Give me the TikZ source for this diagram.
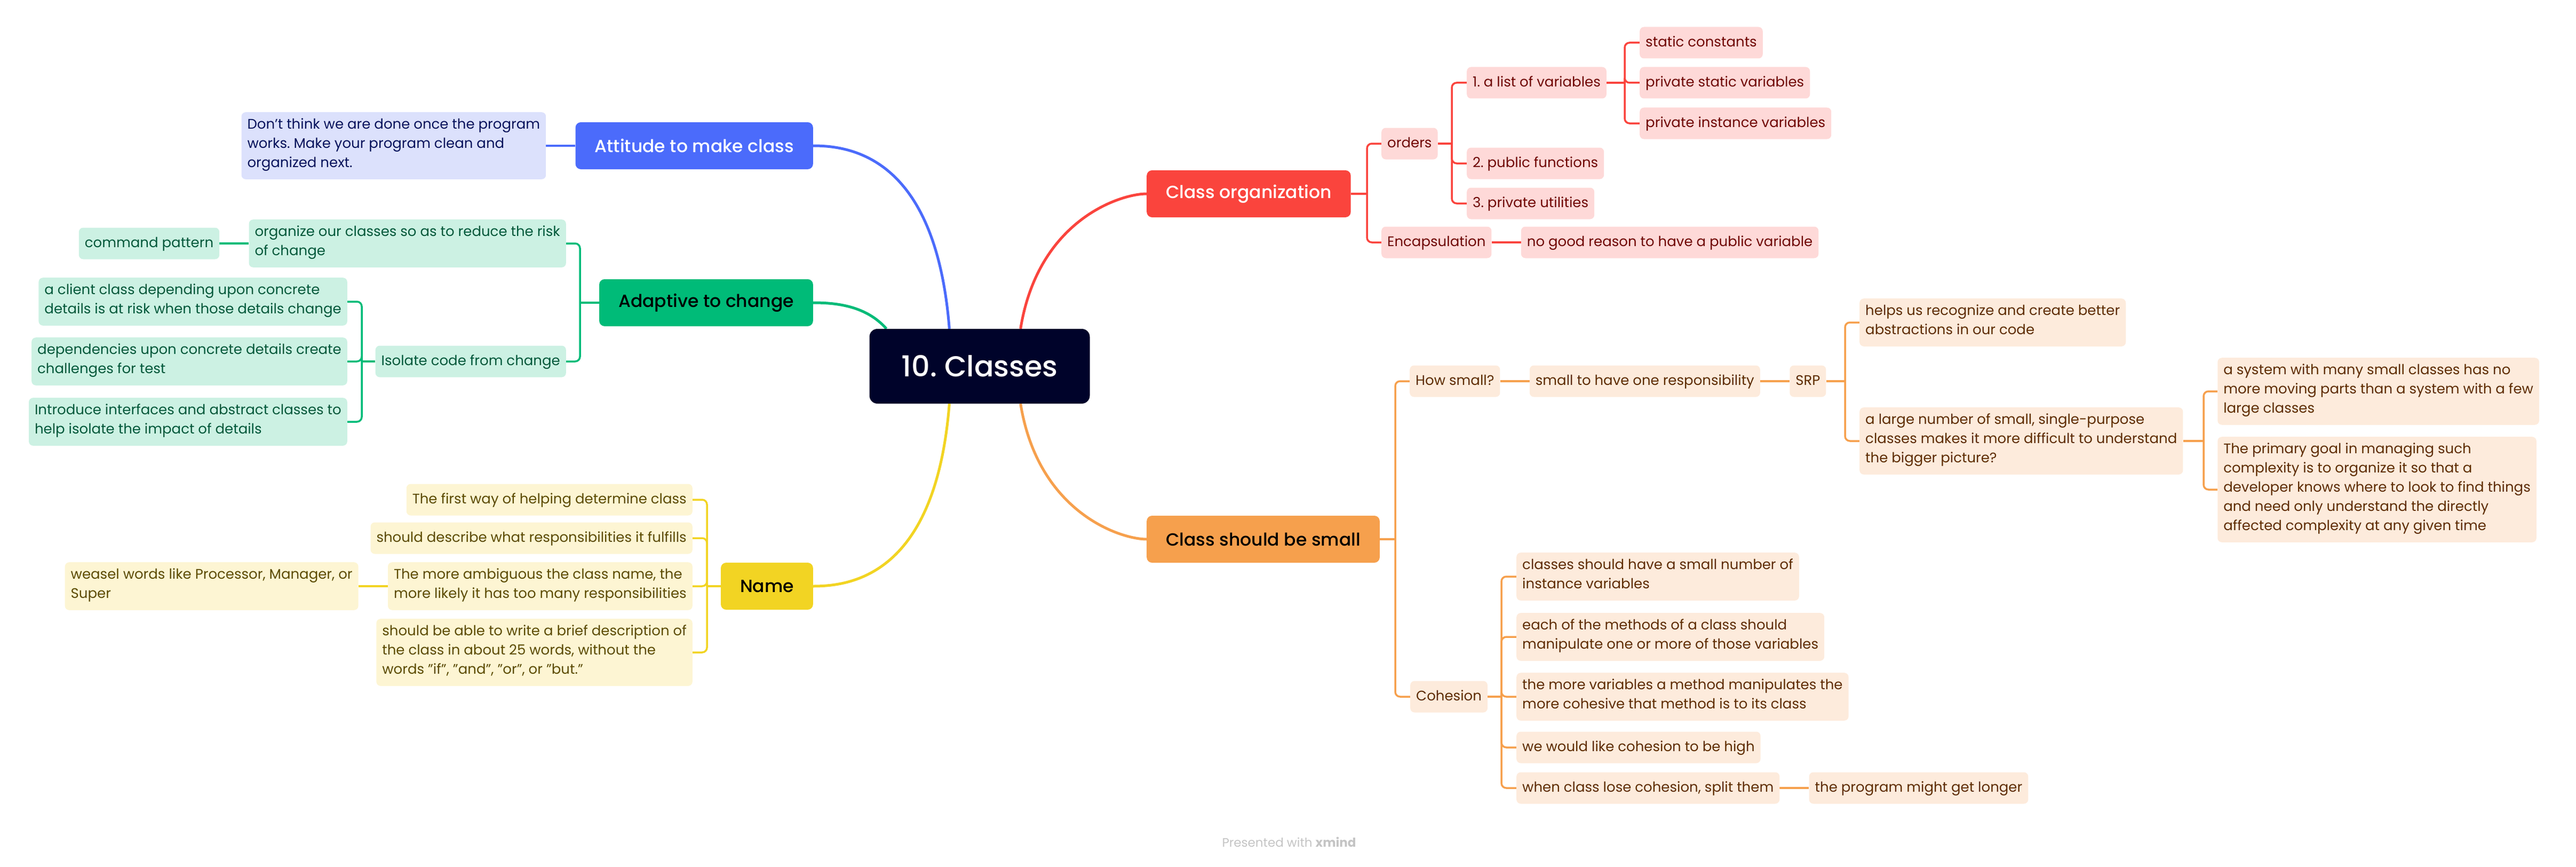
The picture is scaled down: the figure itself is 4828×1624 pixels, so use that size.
\documentclass[tikz,border=0pt]{standalone}
\usepackage{fontspec}
\setmainfont{Poppins}
\newfontfamily\topicfont{Poppins Medium}
\frenchspacing
\usetikzlibrary{positioning,backgrounds}

\definecolor{rootnavy}{HTML}{00032A}
\definecolor{attblue}{HTML}{4B6BFB}
\definecolor{attlight}{HTML}{DCE1FC}
\definecolor{attdark}{HTML}{05125B}
\definecolor{adagreen}{HTML}{00BB78}
\definecolor{adalight}{HTML}{CCF1E3}
\definecolor{adadark}{HTML}{00583A}
\definecolor{nameyellow}{HTML}{F2D423}
\definecolor{namelight}{HTML}{FDF5D3}
\definecolor{namedark}{HTML}{5C4B00}
\definecolor{corgred}{HTML}{FA443D}
\definecolor{corglight}{HTML}{FED9D8}
\definecolor{corgdark}{HTML}{6F0300}
\definecolor{smallorange}{HTML}{F6A04D}
\definecolor{smalllight}{HTML}{FDEBDC}
\definecolor{smalldark}{HTML}{5E2C00}
\definecolor{wmgray}{HTML}{C4C4C4}

\tikzstyle{root}=[rounded corners=15pt, fill=rootnavy, text=white, minimum height=140, inner xsep=60, font=\topicfont\fontsize{54}{64}\selectfont]
\tikzstyle{topic}=[rounded corners=10pt, minimum height=88, inner xsep=36, font=\topicfont\fontsize{33}{40}\selectfont]
\tikzstyle{leaf}=[rounded corners=8pt, inner xsep=11, inner ysep=11.5, font=\fontsize{26}{36}\selectfont, execute at begin node=\strut, execute at end node=\strut]
\tikzset{%
    bleaf/.style={leaf, fill=attlight, text=attdark},
    gleaf/.style={leaf, fill=adalight, text=adadark},
    yleaf/.style={leaf, fill=namelight, text=namedark},
    rleaf/.style={leaf, fill=corglight, text=corgdark},
    oleaf/.style={leaf, fill=smalllight, text=smalldark},
    branch/.style={line width=5pt},
    twig/.style={line width=3.5pt, rounded corners=9pt},
}

\begin{document}
\begin{tikzpicture}[x=1pt,y=-1pt,every text node part/.style={align=left},node distance=55pt]
      \useasboundingbox (0,0) rectangle (4828,1624);

      \node [root] (classes) at (1836,686) {10. Classes};

      % main topics
      \node [topic, fill=corgred, text=white, anchor=west] (clsorg) at (2149,363) {Class organization};
      \node [topic, fill=smallorange, anchor=west] (clssmall) at (2149,1010) {Class should be small};
      \node [topic, fill=attblue, text=white, anchor=east] (attitude) at (1524,273) {Attitude to make class};
      \node [topic, fill=adagreen, anchor=east] (adaptive) at (1524,567) {Adaptive to change};
      \node [topic, fill=nameyellow, anchor=east] (name) at (1524,1098) {Name};

      % Class organization
      \node [rleaf, anchor=west] (orders) at (2589,269) {orders};
      \node [rleaf, anchor=west] (varlist) at (2749,155) {1. a list of variables};
      \node [rleaf, anchor=west] (sconst) at (3073,80) {static constants};
      \node [rleaf, anchor=west] (pstatic) at (3073,155) {private static variables};
      \node [rleaf, anchor=west] (pinst) at (3073,231) {private instance variables};
      \node [rleaf, anchor=west] (pubfun) at (2749,306) {2. public functions};
      \node [rleaf, anchor=west] (privutil) at (2749,381) {3. private utilities};
      \node [rleaf, anchor=west] (encap) at (2589,454) {Encapsulation};
      \node [rleaf, right=of encap] (noreason) {no good reason to have a public variable};

      % Class should be small
      \node [oleaf, anchor=west] (howsmall) at (2642,714) {How small?};
      \node [oleaf, right=of howsmall] (oneresp) {small to have one responsibility};
      \node [oleaf, right=of oneresp] (srp) {SRP};
      \node [oleaf, anchor=west] (helps) at (3485,604) {helps us recognize and create better\\abstractions in our code};
      \node [oleaf, anchor=west] (largenum) at (3485,826) {a large number of small, single-purpose\\classes makes it more difficult to understand\\the bigger picture?};
      \node [oleaf, anchor=west] (manysmall) at (4156,733) {a system with many small classes has no\\more moving parts than a system with a few\\large classes};
      \node [oleaf, anchor=west] (primgoal) at (4156,917) {The primary goal in managing such\\complexity is to organize it so that a\\developer knows where to look to find things\\and need only understand the directly\\affected complexity at any given time};
      \node [oleaf, anchor=west] (cohesion) at (2643,1305) {Cohesion};
      \node [oleaf, anchor=west] (coh1) at (2842,1080) {classes should have a small number of\\instance variables};
      \node [oleaf, anchor=west] (coh2) at (2842,1193) {each of the methods of a class should\\manipulate one or more of those variables};
      \node [oleaf, anchor=west] (coh3) at (2842,1305) {the more variables a method manipulates the\\more cohesive that method is to its class};
      \node [oleaf, anchor=west] (coh4) at (2842,1400) {we would like cohesion to be high};
      \node [oleaf, anchor=west] (coh5) at (2842,1476) {when class lose cohesion, split them};
      \node [oleaf, right=of coh5] (longer) {the program might get longer};

      % Attitude to make class
      \node [bleaf, left=of attitude] (notdone) {Don't think we are done once the program\\works. Make your program clean and\\organized next.};

      % Adaptive to change
      \node [gleaf, anchor=east] (reduce) at (1061,456) {organize our classes so as to reduce the risk\\of change};
      \node [gleaf, left=of reduce] (command) {command pattern};
      \node [gleaf, anchor=east] (isolate) at (1061,677) {Isolate code from change};
      \node [gleaf, anchor=east] (client) at (651,565) {a client class depending upon concrete\\details is at risk when those details change};
      \node [gleaf, anchor=east] (depend) at (651,677) {dependencies upon concrete details create\\challenges for test};
      \node [gleaf, anchor=east] (interf) at (651,790) {Introduce interfaces and abstract classes to\\help isolate the impact of details};

      % Name
      \node [yleaf, anchor=east] (firstway) at (1298,936) {The first way of helping determine class};
      \node [yleaf, anchor=east] (describe) at (1298,1008) {should describe what responsibilities it fulfills};
      \node [yleaf, anchor=east] (ambig) at (1298,1098) {The more ambiguous the class name, the\\more likely it has too many responsibilities};
      \node [yleaf, left=of ambig] (weasel) {weasel words like Processor, Manager, or\\Super};
      \node [yleaf, anchor=east] (brief) at (1298,1222) {should be able to write a brief description of\\the class in about 25 words, without the\\words "if", "and", "or", or "but."};

      \node [font=\fontsize{23}{26}\selectfont, text=wmgray] (credit) at (2416,1577) {Presented with \textbf{xmind}};

      % bracket points
      \coordinate (corgb) at (2562,363);
      \coordinate (ordb) at (2721,269);
      \coordinate (varb) at (3045,155);
      \coordinate (smallb) at (2615,1010);
      \coordinate (srpb) at (3458,714);
      \coordinate (largeb) at (4130,826);
      \coordinate (cohb) at (2814,1305);
      \coordinate (adab) at (1087,567);
      \coordinate (isob) at (678,677);
      \coordinate (nameb) at (1325,1098);

      \begin{scope}[on background layer]
      \draw[branch, corgred] ([xshift=-130pt]classes.north east) .. controls +(33,-204) and +(-49,0) .. (clsorg.west);
      \draw[branch, smallorange] ([xshift=-130pt]classes.south east) .. controls +(33,204) and +(-49,0) .. (clssmall.west);
      \draw[branch, attblue] ([xshift=150pt]classes.north west) .. controls +(-25,-317) and +(76,0) .. (attitude.east);
      \draw[branch, adagreen] ([xshift=32pt]classes.north west) .. controls +(-37,-42) and +(46,0) .. (adaptive.east);
      \draw[branch, nameyellow] ([xshift=150pt]classes.south west) .. controls +(-25,317) and +(76,0) .. (name.east);

      \draw[twig, corgred] (clsorg.east) -- (corgb);
      \draw[twig, corgred] (corgb) |- (orders.west);
      \draw[twig, corgred] (corgb) |- (encap.west);
      \draw[twig, corgred] (orders.east) -- (ordb);
      \draw[twig, corgred] (ordb) |- (varlist.west);
      \draw[twig, corgred] (ordb) |- (pubfun.west);
      \draw[twig, corgred] (ordb) |- (privutil.west);
      \draw[twig, corgred] (varlist.east) -- (varb);
      \draw[twig, corgred] (varb) |- (sconst.west);
      \draw[twig, corgred] (varb) |- (pstatic.west);
      \draw[twig, corgred] (varb) |- (pinst.west);
      \draw[twig, corgred] (encap) -- (noreason);

      \draw[twig, smallorange] (clssmall.east) -- (smallb);
      \draw[twig, smallorange] (smallb) |- (howsmall.west);
      \draw[twig, smallorange] (smallb) |- (cohesion.west);
      \draw[twig, smallorange] (howsmall) -- (oneresp);
      \draw[twig, smallorange] (oneresp) -- (srp);
      \draw[twig, smallorange] (srp.east) -- (srpb);
      \draw[twig, smallorange] (srpb) |- (helps.west);
      \draw[twig, smallorange] (srpb) |- (largenum.west);
      \draw[twig, smallorange] (largenum.east) -- (largeb);
      \draw[twig, smallorange] (largeb) |- (manysmall.west);
      \draw[twig, smallorange] (largeb) |- (primgoal.west);
      \draw[twig, smallorange] (cohesion.east) -- (cohb);
      \draw[twig, smallorange] (cohb) |- (coh1.west);
      \draw[twig, smallorange] (cohb) |- (coh2.west);
      \draw[twig, smallorange] (cohb) |- (coh3.west);
      \draw[twig, smallorange] (cohb) |- (coh4.west);
      \draw[twig, smallorange] (cohb) |- (coh5.west);
      \draw[twig, smallorange] (coh5) -- (longer);

      \draw[twig, attblue] (attitude) -- (notdone);

      \draw[twig, adagreen] (adaptive.west) -- (adab);
      \draw[twig, adagreen] (adab) |- (reduce.east);
      \draw[twig, adagreen] (adab) |- (isolate.east);
      \draw[twig, adagreen] (reduce) -- (command);
      \draw[twig, adagreen] (isolate.west) -- (isob);
      \draw[twig, adagreen] (isob) |- (client.east);
      \draw[twig, adagreen] (isob) |- (depend.east);
      \draw[twig, adagreen] (isob) |- (interf.east);

      \draw[twig, nameyellow] (name.west) -- (nameb);
      \draw[twig, nameyellow] (nameb) |- (firstway.east);
      \draw[twig, nameyellow] (nameb) |- (describe.east);
      \draw[twig, nameyellow] (nameb) |- (ambig.east);
      \draw[twig, nameyellow] (nameb) |- (brief.east);
      \draw[twig, nameyellow] (ambig) -- (weasel);
      \end{scope}
    \end{tikzpicture}
\end{document}
